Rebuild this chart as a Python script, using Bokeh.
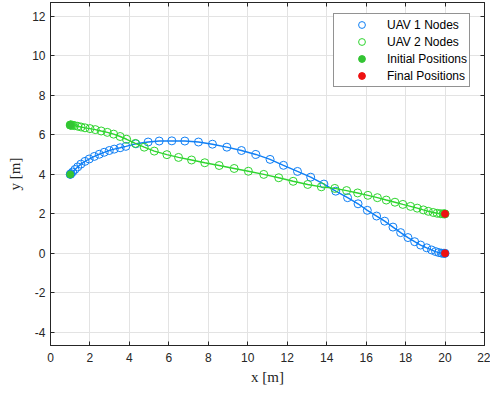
from bokeh.plotting import figure
from bokeh.models import Range1d, LinearAxis, FixedTicker, Legend, LegendItem
from bokeh.embed import file_html
from bokeh.resources import INLINE

# ---- data ----
uav1_x = [1.00, 1.01, 1.04, 1.12, 1.24, 1.38, 1.54, 1.75, 1.96, 2.22,
          2.47, 2.72, 2.98, 3.23, 3.53, 3.82, 4.33, 4.95, 5.51, 6.15,
          6.81, 7.50, 8.21, 8.94, 9.68, 10.41, 11.13, 11.81, 12.52, 13.19,
          13.86, 14.46, 15.06, 15.59, 16.06, 16.53, 16.94, 17.36, 17.75, 18.12,
          18.46, 18.76, 19.07, 19.32, 19.52, 19.68, 19.82, 19.92, 19.98, 20.00]
uav1_y = [4.00, 4.01, 4.04, 4.12, 4.25, 4.38, 4.52, 4.66, 4.78, 4.91,
          5.02, 5.12, 5.21, 5.28, 5.35, 5.42, 5.55, 5.64, 5.69, 5.70,
          5.69, 5.64, 5.53, 5.38, 5.21, 5.01, 4.76, 4.46, 4.15, 3.86,
          3.51, 3.15, 2.82, 2.51, 2.18, 1.89, 1.63, 1.33, 1.05, 0.80,
          0.59, 0.42, 0.28, 0.17, 0.09, 0.04, 0.01, 0.00, 0.00, 0.00]

uav2_x = [1.00, 1.01, 1.03, 1.07, 1.13, 1.22, 1.38, 1.55, 1.75, 2.00,
          2.27, 2.57, 2.88, 3.20, 3.53, 3.86, 4.30, 4.75, 5.26, 5.90,
          6.49, 7.15, 7.82, 8.55, 9.31, 10.03, 10.81, 11.57, 12.30, 13.04,
          13.73, 14.41, 15.01, 15.57, 16.09, 16.57, 17.02, 17.46, 17.86, 18.25,
          18.59, 18.90, 19.15, 19.40, 19.60, 19.77, 19.90, 19.97, 20.00]
uav2_y = [6.50, 6.50, 6.50, 6.50, 6.49, 6.47, 6.44, 6.40, 6.36, 6.32,
          6.27, 6.20, 6.13, 6.04, 5.92, 5.78, 5.57, 5.38, 5.18, 5.00,
          4.86, 4.73, 4.59, 4.45, 4.30, 4.16, 4.00, 3.83, 3.65, 3.49,
          3.37, 3.29, 3.18, 3.06, 2.94, 2.82, 2.70, 2.59, 2.48, 2.38,
          2.29, 2.20, 2.13, 2.07, 2.03, 2.01, 2.00, 2.00, 2.00]

init_x = [1.0, 1.0]
init_y = [4.0, 6.5]
final_x = [20.0, 20.0]
final_y = [0.0, 2.0]

x_ticks = [0, 2, 4, 6, 8, 10, 12, 14, 16, 18, 20, 22]
y_ticks = [-4, -2, 0, 2, 4, 6, 8, 10, 12]
x_labels = [str(t) for t in x_ticks]
y_labels = [str(t) for t in y_ticks]

legend_labels = ["UAV 1 Nodes", "UAV 2 Nodes", "Initial Positions", "Final Positions"]

BLUE = "#0f7ff5"
GREEN = "#2fd52f"
GREEN_DOT = "#33c433"
RED = "#ee1111"
AX = "#262626"

p = figure(width=490, height=394,
           x_range=Range1d(0, 22), y_range=Range1d(-4.67, 12.71),
           output_backend="svg", toolbar_location=None,
           min_border_left=50, min_border_right=6,
           min_border_top=2, min_border_bottom=49,
           x_axis_label="x [m]", y_axis_label="y [m]")

p.background_fill_color = "white"
p.border_fill_color = "white"
p.outline_line_color = AX
p.outline_line_width = 1

# grid
for g in (p.xgrid, p.ygrid):
    g.grid_line_color = "#e3e3e3"
    g.grid_line_width = 1
p.xgrid.ticker = FixedTicker(ticks=x_ticks)
p.ygrid.ticker = FixedTicker(ticks=y_ticks)

def style_axis(ax, ticks, labels, show_labels=True):
    ax.ticker = FixedTicker(ticks=ticks)
    ax.major_label_overrides = {t: (l if show_labels else "") for t, l in zip(ticks, labels)}
    ax.axis_line_color = AX
    ax.major_tick_line_color = AX
    ax.major_tick_in = 4
    ax.major_tick_out = 0
    ax.minor_tick_line_color = None
    ax.major_label_text_font = "Liberation Sans"
    ax.major_label_text_font_size = "12px"
    ax.major_label_text_color = AX

style_axis(p.xaxis[0], x_ticks, x_labels)
style_axis(p.yaxis[0], y_ticks, y_labels)
p.xaxis[0].major_label_standoff = 7
p.yaxis[0].major_label_standoff = 5
for ax in (p.xaxis[0], p.yaxis[0]):
    ax.axis_label_text_font = "Liberation Serif"
    ax.axis_label_text_font_size = "15px"
    ax.axis_label_text_font_style = "normal"
    ax.axis_label_text_color = AX
p.xaxis[0].axis_label_standoff = 4
p.yaxis[0].axis_label_standoff = 6

top = LinearAxis()
right = LinearAxis()
style_axis(top, x_ticks, x_labels, show_labels=False)
style_axis(right, y_ticks, y_labels, show_labels=False)
for ax in (top, right):
    ax.major_label_standoff = 0
    ax.major_label_text_font_size = "1px"
p.add_layout(top, "above")
p.add_layout(right, "right")

# trajectories
p.line(uav1_x, uav1_y, line_color=BLUE, line_width=1.4)
r1 = p.scatter(uav1_x, uav1_y, marker="circle", size=8, line_color=BLUE,
               line_width=1, fill_color=None)
p.line(uav2_x, uav2_y, line_color=GREEN, line_width=1.4)
r2 = p.scatter(uav2_x, uav2_y, marker="circle", size=8, line_color=GREEN,
               line_width=1, fill_color=None)
r3 = p.scatter(init_x, init_y, marker="circle", size=7, line_color=GREEN_DOT,
               fill_color=GREEN_DOT)
r4 = p.scatter(final_x, final_y, marker="circle", size=7, line_color=RED,
               fill_color=RED)

legend = Legend(items=[LegendItem(label=legend_labels[0], renderers=[r1]),
                       LegendItem(label=legend_labels[1], renderers=[r2]),
                       LegendItem(label=legend_labels[2], renderers=[r3]),
                       LegendItem(label=legend_labels[3], renderers=[r4])],
                location=(283, 258))
legend.border_line_color = AX
legend.border_line_width = 1
legend.background_fill_color = "white"
legend.background_fill_alpha = 1
legend.label_text_font = "Liberation Sans"
legend.label_text_font_size = "12px"
legend.label_text_color = "#000000"
legend.padding = 2
legend.spacing = 0
legend.margin = 0
legend.glyph_width = 51
legend.glyph_height = 17
legend.label_height = 17
legend.label_standoff = 0
p.add_layout(legend)

open("out.html", "w").write(file_html(p, INLINE))
